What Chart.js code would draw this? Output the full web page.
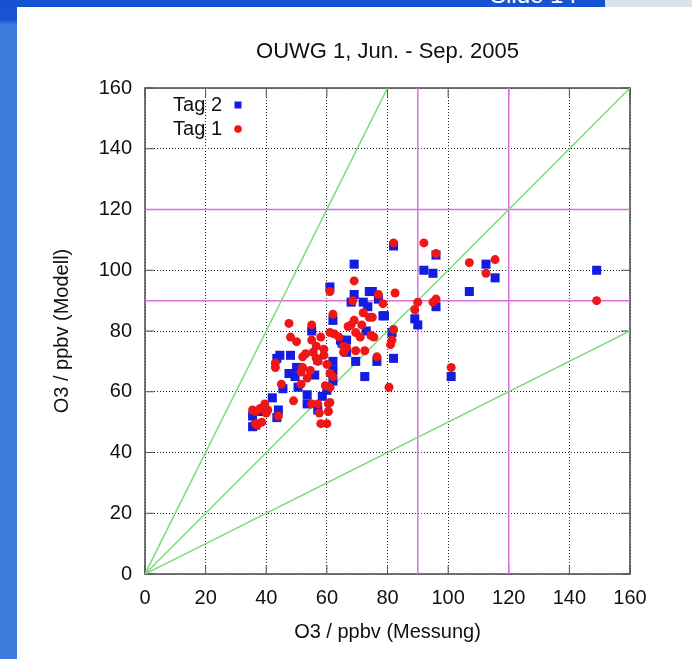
<!DOCTYPE html>
<html>
<head>
<meta charset="utf-8">
<script src="https://cdn.jsdelivr.net/npm/chart.js@4.4.0/dist/chart.umd.min.js"></script>
<style>
html, body { margin: 0; padding: 0; }
body { width: 692px; height: 659px; position: relative; overflow: hidden; background: #fff; font-family: "Liberation Sans", Arial, sans-serif; }
#leftbar { position: absolute; left: 0; top: 0; width: 17px; height: 659px; background: linear-gradient(#1a52d2 0, #1a52d2 20px, #3b7cdc 24px, #3b7cdc 100%); }
#topbar { position: absolute; left: 0; top: 0; width: 605px; height: 7px; background: #1652d2; overflow: hidden; }
#topright { position: absolute; left: 605px; top: 0; width: 87px; height: 7px; background: #dce2ed; }
#slide { position: absolute; left: 490px; top: -17px; color: #fff; font-size: 24px; line-height: 1; white-space: nowrap; }
#chart { position: absolute; left: 0; top: 0; }
</style>
</head>
<body>
<div id="leftbar"></div>
<div id="topbar"><div id="slide">Slide 14</div></div>
<div id="topright"></div>
<canvas id="chart" width="692" height="659"></canvas>
<script>
// values (x = Messung, y = Modell)
var tag2Mess = [149, 92, 95, 96, 82, 112.5, 115.5, 107, 89, 90, 96, 101, 75, 77, 79, 81.5, 82, 76.5, 69, 61,
    69, 74, 72, 68, 73.5, 78.5, 62, 55, 64.5, 66.5, 65, 73, 66.5, 69.5, 72.5, 57, 62, 62, 62, 43.5,
    48, 44.5, 50, 47.5, 49.5, 56, 45.5, 50.5, 53.5, 53.5, 60, 58.5, 57, 35.5, 35.5, 36.5, 38, 42, 44, 43.5];
var tag2Mod = [100, 100, 99, 105, 108, 102, 97.5, 93, 84, 82, 88, 65, 93, 90.5, 85, 79.5, 71, 70, 102, 94.5,
    92, 93, 89.5, 89.5, 88, 85, 83.5, 80, 77, 77, 76, 80, 73, 70, 65, 70.5, 70, 67, 63.5, 71,
    72, 72, 68, 66, 65, 65.5, 61, 61.5, 59, 56, 60.5, 58.5, 54, 52, 48.5, 49, 53.5, 58, 54, 51.5];

var tag1Mess = [149, 92, 96, 82, 107, 112.5, 115.5, 90, 89, 96, 95, 101, 82.5, 77, 78.5, 75, 75.5, 82, 81.5, 81,
    76.5, 80.5, 69, 61, 68.5, 72, 74, 62, 69, 67, 68, 71.5, 69.5, 47.5, 55, 48, 50, 58, 61, 62.5,
    64, 65.5, 66.5, 71, 74.5, 72.5, 69.5, 65.5, 55, 56.5, 59, 55.5, 53, 59, 57, 52, 56.5, 60, 61, 62,
    61, 59.5, 43, 43, 52, 54.5, 51.5, 53.5, 51.5, 45, 49, 55, 57, 60.5, 61, 57.5, 60.5, 60, 58, 35.5,
    36.5, 36.5, 38.5, 38, 39.5, 40.5, 40, 44, 37];
var tag1Mod = [90, 109, 105.5, 109, 102.5, 99, 103.5, 89.5, 87, 90.5, 89.5, 68, 92.5, 92, 89, 84.5, 78, 80.5, 77, 75.5,
    71.5, 61.5, 96.5, 93, 90, 86, 84.5, 85.5, 83.5, 81.5, 82, 82, 79.5, 82.5, 82, 78, 76.5, 78, 79.5, 79,
    78, 75, 74.5, 78, 78.5, 73.5, 73.5, 73, 77, 75, 74, 73, 72.5, 72, 70, 71.5, 71, 69, 66, 65,
    61.5, 62, 69.5, 68, 68, 67, 66.5, 64.5, 62.5, 62.5, 57, 56, 56, 56, 56.5, 53, 53.5, 49.5, 49.5, 54,
    53.5, 49.5, 50, 54.5, 56, 54, 53, 52, 49];

var tickValues = [0, 20, 40, 60, 80, 100, 120, 140, 160];

// green reference lines 1:1, 2:1, 1:2
var lineOneX = [0, 160], lineOneY = [0, 160];
var lineTwoX = [0, 80], lineTwoY = [0, 160];
var lineHalfX = [0, 160], lineHalfY = [0, 80];
// magenta limit lines
var limitValues = [90, 120];

function pts(xs, ys) {
    return xs.map(function (x, i) { return { x: x, y: ys[i] }; });
}

var green = 'rgb(120,220,120)';
var magenta = 'rgb(222,110,224)';

var guides = [
    { data: pts(lineOneX, lineOneY), color: green },
    { data: pts(lineTwoX, lineTwoY), color: green },
    { data: pts(lineHalfX, lineHalfY), color: green }
];
limitValues.forEach(function (v) {
    guides.push({ data: [{ x: v, y: 0 }, { x: v, y: 160 }], color: magenta });
    guides.push({ data: [{ x: 0, y: v }, { x: 160, y: v }], color: magenta });
});

var datasets = [
    {
        label: 'Tag 1', data: pts(tag1Mess, tag1Mod), order: 0,
        pointStyle: 'circle', pointRadius: 4.5, backgroundColor: 'rgb(238,22,22)', borderColor: 'rgb(238,22,22)', borderWidth: 0
    },
    {
        label: 'Tag 2', data: pts(tag2Mess, tag2Mod), order: 1,
        pointStyle: 'rect', pointRadius: 6.4, backgroundColor: 'rgb(20,28,225)', borderColor: 'rgb(20,28,225)', borderWidth: 0
    }
];
guides.forEach(function (g) {
    datasets.push({
        data: g.data, showLine: true, pointRadius: 0, borderColor: g.color, borderWidth: 1.5,
        fill: false, order: 2
    });
});

var font = 'Liberation Sans, Arial, sans-serif';

// frame, inner tick marks, title and key drawn around the plot
var framePlugin = {
    id: 'frame',
    beforeDatasetsDraw: function (chart) {
        var a = chart.chartArea, c = chart.ctx;
        c.save();
        c.strokeStyle = '#555';
        c.lineWidth = 1;
        c.beginPath();
        tickValues.forEach(function (v) {
            var px = chart.scales.x.getPixelForValue(v);
            var py = chart.scales.y.getPixelForValue(v);
            c.moveTo(px, a.bottom); c.lineTo(px, a.bottom - 9);
            c.moveTo(px, a.top); c.lineTo(px, a.top + 9);
            c.moveTo(a.left, py); c.lineTo(a.left + 9, py);
            c.moveTo(a.right, py); c.lineTo(a.right - 9, py);
        });
        c.stroke();
        c.lineWidth = 1.6;
        c.strokeRect(a.left, a.top, a.right - a.left, a.bottom - a.top);
        c.restore();
    },
    afterDraw: function (chart) {
        var a = chart.chartArea, c = chart.ctx;
        c.save();
        c.fillStyle = '#111';
        c.font = '22px ' + font;
        c.textAlign = 'center';
        c.textBaseline = 'middle';
        c.fillText('OUWG 1, Jun. - Sep. 2005', (a.left + a.right) / 2, 52);
        // key
        c.font = '20px ' + font;
        c.textAlign = 'right';
        var keyX = a.left + 77, mX = a.left + 93;
        c.fillText('Tag 2', keyX, a.top + 17);
        c.fillText('Tag 1', keyX, a.top + 41);
        c.fillStyle = datasets[1].backgroundColor;
        c.fillRect(mX - 3.5, a.top + 13.5, 7, 7);
        c.fillStyle = datasets[0].backgroundColor;
        c.beginPath();
        c.arc(mX, a.top + 41, 3.8, 0, Math.PI * 2);
        c.fill();
        c.restore();
    }
};

var ctx = document.getElementById('chart').getContext('2d');
var chart = new Chart(ctx, {
    type: 'scatter',
    data: { datasets: datasets },
    plugins: [framePlugin],
    options: {
        responsive: false,
        animation: false,
        devicePixelRatio: 1,
        layout: { padding: { left: 40, right: 62, top: 88, bottom: 10 } },
        plugins: {
            legend: { display: false },
            tooltip: { enabled: false },
            title: { display: false }
        },
        scales: {
            x: {
                type: 'linear', min: 0, max: 160,
                afterBuildTicks: function (s) { s.ticks = tickValues.map(function (v) { return { value: v }; }); },
                afterFit: function (s) { s.height = 75; },
                grid: { color: '#222', lineWidth: 1, drawTicks: false },
                border: { display: false, dash: [1, 2] },
                ticks: { padding: 12, color: '#111', font: { family: font, size: 20 }, maxRotation: 0, autoSkip: false },
                title: { display: true, text: 'O3 / ppbv (Messung)', color: '#111', font: { family: font, size: 20 }, padding: { top: 0, bottom: 5 } }
            },
            y: {
                type: 'linear', min: 0, max: 160,
                afterBuildTicks: function (s) { s.ticks = tickValues.map(function (v) { return { value: v }; }); },
                afterFit: function (s) { s.width = 105; },
                grid: { color: '#222', lineWidth: 1, drawTicks: false },
                border: { display: false, dash: [1, 2] },
                ticks: { padding: 13, color: '#111', font: { family: font, size: 20 }, autoSkip: false },
                title: { display: true, text: 'O3 / ppbv (Modell)', color: '#111', font: { family: font, size: 20 }, padding: { top: 10, bottom: 0 } }
            }
        }
    }
});
</script>
</body>
</html>
